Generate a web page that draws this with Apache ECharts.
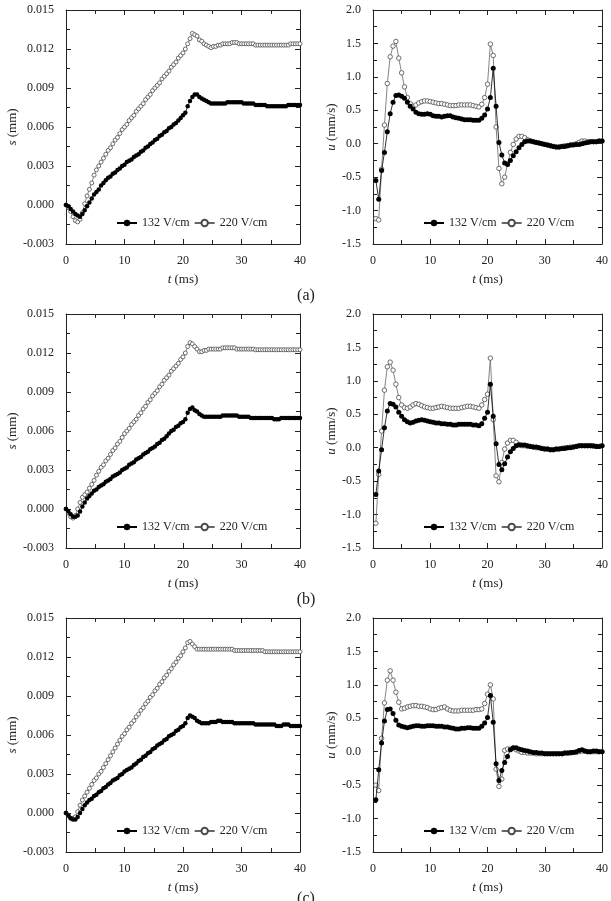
<!DOCTYPE html>
<html><head><meta charset="utf-8">
<script src="https://cdn.jsdelivr.net/npm/echarts@6/dist/echarts.min.js"></script>
<style>html,body{margin:0;padding:0;background:#fff}#c{width:611px;height:901px}</style>
</head><body><div id="c"></div>
<script>
// time samples (ms)
const tS = [0,0.4,0.8,1.2,1.6,2.0,2.4,2.8,3.2,3.6,4.0,4.4,4.8,5.2,5.6,6.0,6.4,6.8,7.2,7.6,
8.0,8.4,8.8,9.2,9.6,10.0,10.4,10.8,11.2,11.6,12.0,12.4,12.8,13.2,13.6,14.0,14.4,14.8,15.2,15.6,
16.0,16.4,16.8,17.2,17.6,18.0,18.4,18.8,19.2,19.6,20.0,20.4,20.8,21.2,21.6,22.0,22.4,22.8,23.2,23.6,
24.0,24.4,24.8,25.2,25.6,26.0,26.4,26.8,27.2,27.6,28.0,28.4,28.8,29.2,29.6,30.0,30.4,30.8,31.2,31.6,
32.0,32.4,32.8,33.2,33.6,34.0,34.4,34.8,35.2,35.6,36.0,36.4,36.8,37.2,37.6,38.0,38.4,38.8,39.2,39.6,40.0];
const tU = [0.5,1.0,1.5,2.0,2.5,3.0,3.5,4.0,4.5,5.0,5.5,6.0,6.5,7.0,7.5,8.0,8.5,9.0,9.5,10.0,
10.5,11.0,11.5,12.0,12.5,13.0,13.5,14.0,14.5,15.0,15.5,16.0,16.5,17.0,17.5,18.0,18.5,19.0,19.5,20.0,
20.5,21.0,21.5,22.0,22.5,23.0,23.5,24.0,24.5,25.0,25.5,26.0,26.5,27.0,27.5,28.0,28.5,29.0,29.5,30.0,
30.5,31.0,31.5,32.0,32.5,33.0,33.5,34.0,34.5,35.0,35.5,36.0,36.5,37.0,37.5,38.0,38.5,39.0,39.5,40.0];

// displacement s (mm)
const sA132 = [0,-0.0001,-0.0003,-0.0005,-0.0007,-0.0008,-0.0009,-0.0007,-0.0004,-0.0001,
0.0002,0.0005,0.0008,0.0010,0.0012,0.0015,0.0017,0.0019,0.0021,0.0022,
0.0024,0.0025,0.0027,0.0028,0.0030,0.0031,0.0033,0.0034,0.0035,0.0037,
0.0038,0.0039,0.0041,0.0042,0.0044,0.0045,0.0047,0.0048,0.0050,0.0051,
0.0053,0.0054,0.0056,0.0057,0.0059,0.0060,0.0062,0.0063,0.0065,0.0067,
0.0069,0.0071,0.0076,0.0080,0.0083,0.0085,0.0085,0.0083,0.0082,0.0081,
0.0080,0.0079,0.0078,0.0078,0.0078,0.0078,0.0078,0.0078,0.0078,0.0079,
0.0079,0.0079,0.0079,0.0079,0.0079,0.0079,0.0078,0.0078,0.0078,0.0078,
0.0078,0.0077,0.0077,0.0077,0.0077,0.0077,0.0076,0.0076,0.0076,0.0076,
0.0076,0.0076,0.0076,0.0076,0.0076,0.0077,0.0077,0.0077,0.0077,0.0077,0.0077];
const sA220 = [0,-0.0002,-0.0005,-0.0009,-0.0012,-0.0013,-0.0011,-0.0006,0.0001,0.0007,
0.0012,0.0017,0.0023,0.0027,0.0030,0.0033,0.0036,0.0039,0.0042,0.0044,
0.0047,0.0050,0.0052,0.0055,0.0058,0.0060,0.0062,0.0065,0.0067,0.0069,
0.0072,0.0074,0.0076,0.0078,0.0081,0.0083,0.0085,0.0088,0.0090,0.0092,
0.0094,0.0097,0.0099,0.0101,0.0103,0.0106,0.0108,0.0110,0.0113,0.0115,
0.0117,0.0120,0.0124,0.0128,0.0132,0.0131,0.0130,0.0127,0.0126,0.0124,
0.0123,0.0122,0.0121,0.0122,0.0122,0.0123,0.0123,0.0124,0.0124,0.0124,
0.0124,0.0125,0.0125,0.0125,0.0124,0.0124,0.0124,0.0124,0.0124,0.0124,
0.0124,0.0123,0.0123,0.0123,0.0123,0.0123,0.0123,0.0123,0.0123,0.0123,
0.0123,0.0123,0.0123,0.0123,0.0123,0.0123,0.0124,0.0124,0.0124,0.0124,0.0124];
const sB132 = [0,-0.0002,-0.0004,-0.0006,-0.0006,-0.0005,-0.0002,0.0002,0.0005,0.0008,
0.0010,0.0012,0.0014,0.0015,0.0017,0.0018,0.0019,0.0021,0.0022,0.0023,
0.0025,0.0026,0.0027,0.0028,0.0030,0.0031,0.0032,0.0034,0.0035,0.0036,
0.0038,0.0039,0.0040,0.0042,0.0043,0.0044,0.0046,0.0047,0.0048,0.0050,
0.0051,0.0053,0.0054,0.0056,0.0058,0.0060,0.0061,0.0063,0.0064,0.0066,
0.0067,0.0069,0.0074,0.0077,0.0078,0.0076,0.0075,0.0073,0.0072,0.0071,
0.0071,0.0071,0.0071,0.0071,0.0071,0.0071,0.0071,0.0072,0.0072,0.0072,
0.0072,0.0072,0.0072,0.0072,0.0071,0.0071,0.0071,0.0071,0.0071,0.0070,
0.0070,0.0070,0.0070,0.0070,0.0070,0.0070,0.0070,0.0070,0.0070,0.0069,
0.0069,0.0069,0.0070,0.0070,0.0070,0.0070,0.0070,0.0070,0.0070,0.0070,0.0070];
const sB220 = [0,-0.0003,-0.0006,-0.0007,-0.0005,0.0000,0.0005,0.0009,0.0011,0.0013,
0.0016,0.0019,0.0022,0.0026,0.0029,0.0032,0.0034,0.0037,0.0039,0.0042,
0.0045,0.0047,0.0050,0.0052,0.0055,0.0058,0.0060,0.0062,0.0065,0.0067,
0.0069,0.0072,0.0074,0.0077,0.0079,0.0082,0.0084,0.0087,0.0089,0.0091,
0.0094,0.0096,0.0099,0.0101,0.0103,0.0106,0.0108,0.0110,0.0112,0.0115,
0.0117,0.0120,0.0125,0.0128,0.0127,0.0125,0.0123,0.0121,0.0121,0.0122,
0.0122,0.0123,0.0123,0.0123,0.0123,0.0123,0.0123,0.0124,0.0124,0.0124,
0.0124,0.0124,0.0124,0.0123,0.0123,0.0123,0.0123,0.0123,0.0123,0.0123,
0.0123,0.01225,0.01225,0.01225,0.01225,0.01225,0.01225,0.01225,0.01225,0.01225,
0.01225,0.01225,0.01225,0.01225,0.01225,0.01225,0.01225,0.01225,0.01225,0.01225,0.01225];
const sC132 = [0,-0.0002,-0.0004,-0.0005,-0.0005,-0.0003,0.0000,0.0003,0.0006,0.0008,
0.0010,0.0011,0.0013,0.0014,0.0016,0.0017,0.0019,0.0020,0.0022,0.0023,
0.0025,0.0026,0.0027,0.0029,0.0030,0.0032,0.0033,0.0034,0.0035,0.0037,
0.0038,0.0040,0.0041,0.0043,0.0044,0.0046,0.0047,0.0049,0.0050,0.0052,
0.0053,0.0054,0.0056,0.0057,0.0059,0.0060,0.0061,0.0063,0.0064,0.0066,
0.0067,0.0069,0.0073,0.0075,0.0074,0.0073,0.0071,0.0070,0.0069,0.0069,
0.0069,0.0069,0.0070,0.0070,0.0070,0.0071,0.0071,0.0070,0.0070,0.0070,
0.0070,0.0070,0.0069,0.0069,0.0069,0.0069,0.0069,0.0069,0.0069,0.0069,
0.0069,0.0068,0.0068,0.0068,0.0068,0.0068,0.0068,0.0068,0.0068,0.0068,
0.0067,0.0067,0.0067,0.0068,0.0068,0.0068,0.0067,0.0067,0.0067,0.0067,0.0067];
const sC220 = [0,-0.0002,-0.0004,-0.0004,-0.0003,0.0001,0.0006,0.0010,0.0013,0.0016,
0.0019,0.0022,0.0025,0.0027,0.0030,0.0032,0.0035,0.0038,0.0041,0.0044,
0.0047,0.0050,0.0053,0.0056,0.0059,0.0061,0.0064,0.0066,0.0069,0.0071,
0.0074,0.0076,0.0079,0.0081,0.0084,0.0086,0.0089,0.0091,0.0094,0.0096,
0.0099,0.0101,0.0104,0.0106,0.0109,0.0111,0.0114,0.0116,0.0119,0.0121,
0.0124,0.0127,0.0131,0.0132,0.0130,0.0128,0.0126,0.0126,0.0126,0.0126,
0.0126,0.0126,0.0126,0.0126,0.0126,0.0126,0.0126,0.0126,0.0126,0.0126,
0.0126,0.0126,0.0125,0.0125,0.0125,0.0125,0.0125,0.0125,0.0125,0.0125,
0.0125,0.0125,0.0125,0.0125,0.0125,0.0124,0.0124,0.0124,0.0124,0.0124,
0.0124,0.0124,0.0124,0.0124,0.0124,0.0124,0.0124,0.0124,0.0124,0.0124,0.0124];

// velocity u (mm/s)
const uA132 = [-0.55,-0.83,-0.40,-0.13,0.18,0.45,0.62,0.72,0.73,0.71,
0.68,0.62,0.56,0.52,0.47,0.45,0.44,0.44,0.45,0.44,
0.42,0.41,0.41,0.40,0.41,0.42,0.42,0.40,0.39,0.38,
0.37,0.36,0.36,0.36,0.35,0.35,0.35,0.38,0.43,0.52,
0.69,1.13,0.56,0.02,-0.17,-0.29,-0.31,-0.25,-0.18,-0.12,
-0.06,-0.01,0.03,0.04,0.04,0.03,0.02,0.01,0.00,-0.01,
-0.02,-0.03,-0.04,-0.05,-0.05,-0.04,-0.04,-0.03,-0.02,-0.02,
-0.01,-0.01,0.00,0.01,0.02,0.03,0.03,0.03,0.04,0.04];
const uA220 = [-1.12,-1.14,-0.38,0.28,0.90,1.30,1.46,1.53,1.28,1.06,
0.85,0.69,0.60,0.56,0.58,0.61,0.63,0.64,0.64,0.63,
0.62,0.61,0.60,0.60,0.59,0.58,0.57,0.57,0.57,0.58,
0.58,0.58,0.58,0.58,0.57,0.56,0.55,0.59,0.69,0.89,
1.49,1.32,0.25,-0.37,-0.60,-0.50,-0.30,-0.13,-0.01,0.07,
0.11,0.11,0.09,0.06,0.04,0.03,0.02,0.01,0.00,-0.01,
-0.02,-0.03,-0.04,-0.05,-0.05,-0.04,-0.03,-0.03,-0.02,-0.01,
0.00,0.02,0.04,0.04,0.03,0.03,0.03,0.03,0.04,0.04];
const uB132 = [-0.70,-0.35,-0.03,0.30,0.55,0.66,0.65,0.61,0.53,0.47,
0.42,0.39,0.37,0.38,0.40,0.41,0.42,0.41,0.40,0.39,
0.38,0.37,0.37,0.36,0.36,0.35,0.35,0.34,0.34,0.35,
0.35,0.35,0.35,0.35,0.34,0.34,0.33,0.36,0.44,0.53,
0.95,0.47,0.06,-0.25,-0.33,-0.24,-0.14,-0.06,-0.01,0.03,
0.04,0.04,0.04,0.03,0.02,0.01,0.01,0.00,-0.01,-0.02,
-0.02,-0.03,-0.03,-0.02,-0.02,-0.01,-0.01,0.00,0.00,0.01,
0.02,0.03,0.03,0.03,0.03,0.03,0.03,0.02,0.02,0.03];
const uB220 = [-1.13,-0.40,0.25,0.86,1.21,1.28,1.16,0.95,0.75,0.64,
0.60,0.59,0.61,0.64,0.66,0.65,0.63,0.61,0.60,0.59,
0.59,0.60,0.61,0.62,0.61,0.60,0.59,0.59,0.59,0.59,
0.60,0.61,0.62,0.62,0.61,0.60,0.59,0.64,0.72,0.80,
1.34,0.42,-0.42,-0.51,-0.22,-0.02,0.07,0.11,0.11,0.08,
0.05,0.03,0.03,0.02,0.02,0.01,0.00,0.00,-0.01,-0.02,
-0.02,-0.03,-0.03,-0.02,-0.02,-0.01,0.00,0.00,0.01,0.01,
0.02,0.03,0.03,0.03,0.03,0.03,0.02,0.02,0.02,0.03];
const uC132 = [-0.72,-0.27,0.13,0.46,0.63,0.64,0.57,0.47,0.40,0.38,
0.37,0.36,0.37,0.38,0.39,0.39,0.38,0.38,0.39,0.39,
0.39,0.38,0.38,0.38,0.37,0.37,0.36,0.35,0.34,0.34,
0.35,0.35,0.36,0.36,0.35,0.35,0.35,0.38,0.43,0.51,
0.84,0.44,-0.18,-0.43,-0.28,-0.16,-0.07,0.03,0.06,0.06,
0.04,0.03,0.02,0.01,0.00,-0.01,-0.01,-0.02,-0.02,-0.03,
-0.03,-0.03,-0.03,-0.03,-0.03,-0.03,-0.02,-0.02,-0.01,-0.01,
0.00,0.02,0.03,0.01,0.00,0.00,0.01,0.01,0.00,0.00];
const uC220 = [-0.50,-0.58,0.20,0.73,1.07,1.21,1.07,0.89,0.74,0.64,
0.65,0.67,0.68,0.69,0.69,0.68,0.68,0.67,0.66,0.64,
0.63,0.63,0.65,0.66,0.67,0.64,0.62,0.61,0.61,0.61,
0.62,0.62,0.62,0.62,0.62,0.63,0.63,0.64,0.72,0.86,
1.00,0.79,-0.26,-0.52,-0.41,0.02,0.04,0.04,0.05,0.03,
0.01,-0.01,-0.01,-0.02,-0.02,-0.02,-0.03,-0.03,-0.03,-0.03,
-0.03,-0.03,-0.03,-0.03,-0.03,-0.03,-0.02,-0.02,-0.02,-0.01,
-0.01,0.00,0.01,0.01,0.00,0.00,0.00,0.00,0.00,0.00];

const seriesNames = ['132 V/cm', '220 V/cm'];
const panelLabels = ['(a)', '(b)', '(c)'];
const sAxis = {min: -0.003, max: 0.015, interval: 0.003, digits: 3};
const uAxis = {min: -1.5, max: 2.0, interval: 0.5, digits: 1};
const tAxis = {min: 0, max: 40, interval: 10};

const FONT = 'Liberation Serif';
const INK = '#222';
const rowTops = [10, 314, 618];
const labelY = [296, 600, 899];
const GW = 234, GH = 234;

const grids = [], xAxes = [], yAxes = [], series = [], legends = [], graphics = [];

function pairs(t, v) { return t.map((x, i) => [x, v[i]]); }

function addPanel(left, top, ax, yName, yGap, data132, data220, tArr, sym) {
  const gi = grids.length;
  grids.push({left: left, top: top, width: GW, height: GH});
  const line = {show: true, onZero: false, lineStyle: {color: INK, width: 1}};
  const tick = {show: true, inside: true, length: 5, lineStyle: {color: INK, width: 1}};
  const minor = {show: true, splitNumber: 2, length: 4, lineStyle: {color: INK, width: 1}};
  const lab = {fontFamily: FONT, fontSize: 12, color: INK};
  const nameStyle = {fontFamily: FONT, fontSize: 13, color: INK, rich: {i: {fontFamily: FONT, fontSize: 13, fontStyle: 'italic', color: INK}}};
  const xb = {type: 'value', gridIndex: gi, min: tAxis.min, max: tAxis.max, interval: tAxis.interval,
    axisLine: line, axisTick: tick, minorTick: minor, splitLine: {show: false}, minorSplitLine: {show: false}};
  xAxes.push(Object.assign({}, xb, {position: 'bottom', axisLabel: Object.assign({margin: 11}, lab),
    name: '{i|t} (ms)', nameLocation: 'middle', nameGap: 29, nameTextStyle: nameStyle}));
  xAxes.push(Object.assign({}, xb, {position: 'top', axisLabel: {show: false}}));
  const yb = {type: 'value', gridIndex: gi, min: ax.min, max: ax.max, interval: ax.interval,
    axisLine: line, axisTick: tick, minorTick: minor, splitLine: {show: false}, minorSplitLine: {show: false}};
  yAxes.push(Object.assign({}, yb, {position: 'left',
    axisLabel: Object.assign({margin: 12, formatter: v => v.toFixed(ax.digits)}, lab),
    name: yName, nameLocation: 'middle', nameGap: yGap, nameTextStyle: nameStyle}));
  yAxes.push(Object.assign({}, yb, {position: 'right', axisLabel: {show: false}}));
  const xi = gi * 2, yi = gi * 2;
  series.push({type: 'line', name: seriesNames[1], xAxisIndex: xi, yAxisIndex: yi, data: pairs(tArr, data220),
    symbol: 'circle', symbolSize: sym, showAllSymbol: true,
    itemStyle: {color: '#fff', borderColor: '#4a4a4a', borderWidth: 0.8},
    lineStyle: {color: '#666', width: 0.8}, animation: false, z: 2});
  series.push({type: 'line', name: seriesNames[0], xAxisIndex: xi, yAxisIndex: yi, data: pairs(tArr, data132),
    symbol: 'circle', symbolSize: sym + 0.5, showAllSymbol: true,
    itemStyle: {color: '#000'}, lineStyle: {color: '#000', width: 0.8}, animation: false, z: 3});
  legends.push({data: seriesNames, left: left + 45, top: top + GH - 32, orient: 'horizontal',
    itemWidth: 20, itemHeight: 8, itemGap: 4, selectedMode: false,
    textStyle: {fontFamily: FONT, fontSize: 12, color: INK}});
}

for (let r = 0; r < 3; r++) {
  const sd = [[sA132, sA220], [sB132, sB220], [sC132, sC220]][r];
  const ud = [[uA132, uA220], [uB132, uB220], [uC132, uC220]][r];
  addPanel(66, rowTops[r], sAxis, '{i|s} (mm)', 45, sd[0], sd[1], tS, 4);
  addPanel(373, rowTops[r], uAxis, '{i|u} (mm/s)', 33, ud[0], ud[1], tU, 4.5);
  graphics.push({type: 'text', x: 306, y: labelY[r],
    style: {text: panelLabels[r], fontFamily: FONT, fontSize: 16, fill: INK, align: 'center', verticalAlign: 'middle'}});
}

const chart = echarts.init(document.getElementById('c'), null, {renderer: 'canvas'});
chart.setOption({
  animation: false,
  backgroundColor: '#fff',
  grid: grids, xAxis: xAxes, yAxis: yAxes, series: series, legend: legends, graphic: graphics
});
</script>
</body></html>
